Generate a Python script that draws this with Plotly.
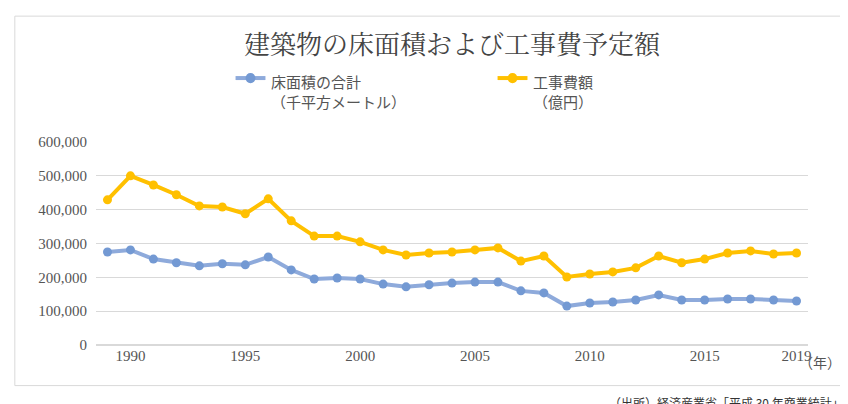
import plotly.graph_objects as go

years = list(range(1989, 2020))
floor_area = [275000, 281000, 254000, 243000, 234000, 240000, 237000, 260000, 222000, 195000,
              198000, 195000, 180000, 172000, 178000, 183000, 186000, 186000, 160000, 154000,
              115000, 124000, 127000, 133000, 148000, 133000, 133000, 136000, 136000, 133000, 130000]
cost = [429000, 500000, 473000, 444000, 411000, 408000, 388000, 432000, 367000, 322000,
        322000, 305000, 281000, 266000, 272000, 275000, 281000, 287000, 248000, 263000,
        201000, 210000, 216000, 228000, 263000, 243000, 254000, 272000, 278000, 269000, 272000]
tick_years = [1990, 1995, 2000, 2005, 2010, 2015, 2019]
y_ticks = [0, 100000, 200000, 300000, 400000, 500000, 600000]

font = "Noto Sans CJK JP"
blue_line, blue_dot, yellow = "#8eaadb", "#7399d3", "#ffc000"

fig = go.Figure()
fig.add_trace(go.Scatter(x=years, y=floor_area, mode="lines+markers", name="床面積の合計",
                         line=dict(color=blue_line, width=4), marker=dict(color=blue_dot, size=9)))
fig.add_trace(go.Scatter(x=years, y=cost, mode="lines+markers", name="工事費額",
                         line=dict(color=yellow, width=4), marker=dict(color=yellow, size=9)))

fig.update_layout(
    width=848, height=404, paper_bgcolor="white", plot_bgcolor="white",
    margin=dict(l=88, r=48, t=134, b=67),
    font=dict(family=font, size=13, color="#444"),
    showlegend=False,
)
fig.update_xaxes(range=[1988.5, 2019.5], tickvals=tick_years, ticktext=[str(t) for t in tick_years],
                 showgrid=False, zeroline=False, tickfont=dict(family="Liberation Serif", size=15, color="#555"))
fig.update_yaxes(range=[0, 600000], tickvals=y_ticks, tickformat=",", showgrid=True, gridcolor="#d9d9d9",
                 zeroline=True, zerolinecolor="#d9d9d9", ticklabelstandoff=8,
                 tickfont=dict(family="Liberation Serif", size=15, color="#555"))

# title
fig.add_annotation(text="建築物の床面積および工事費予定額", xref="paper", yref="paper", x=0.5, y=1.49,
                   xanchor="center", yanchor="middle", showarrow=False,
                   font=dict(family="Noto Serif CJK JP, Noto Sans CJK JP", size=26, color="#444"))

# manual legend
legend_items = [(0.196, blue_line, blue_dot, "床面積の合計<br>（千平方メートル）"),
                (0.564, yellow, yellow, "工事費額<br>（億円）")]
for lx, lc, mc, label in legend_items:
    fig.add_shape(type="line", xref="paper", yref="paper", x0=lx, x1=lx + 0.042, y0=1.315, y1=1.315,
                  line=dict(color=lc, width=4))
    fig.add_shape(type="circle", xref="paper", yref="paper", x0=lx + 0.014, x1=lx + 0.028,
                  y0=1.29, y1=1.34, fillcolor=mc, line=dict(color=mc, width=0))
    fig.add_annotation(text=label, xref="paper", yref="paper", x=lx + 0.047, y=1.36, xanchor="left",
                       yanchor="top", align="left", showarrow=False, font=dict(size=15, color="#555"))

fig.add_annotation(text="（年）", xref="paper", yref="paper", x=0.985, y=-0.025, xanchor="left", yanchor="top",
                   showarrow=False, font=dict(size=14, color="#555"))
fig.add_annotation(text="（出所）経済産業省「平成 30 年商業統計」", xref="paper", yref="paper", x=1.053, y=-0.23,
                   xanchor="right", yanchor="top", showarrow=False, font=dict(size=12, color="#333"))
fig.add_shape(type="rect", xref="paper", yref="paper", x0=-0.114, x1=1.056, y0=-0.20, y1=1.62,
              line=dict(color="#d9d9d9", width=1))
fig.write_html("out.html")
